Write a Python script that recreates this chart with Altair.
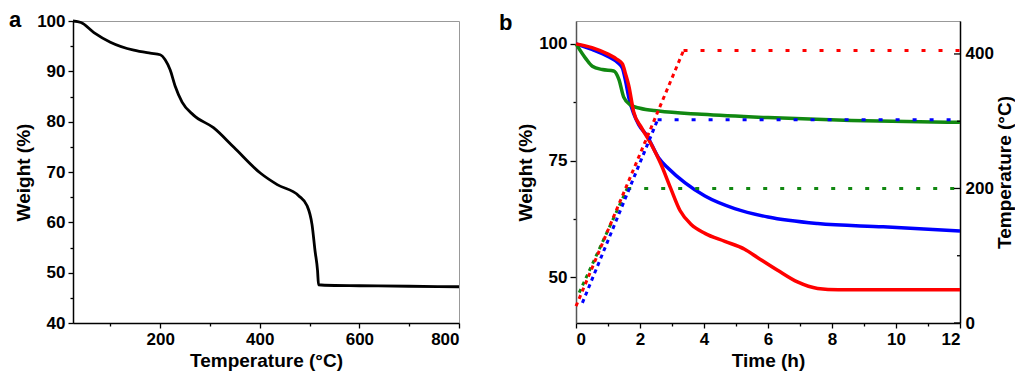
import altair as alt
import pandas as pd

FONT = "Liberation Sans"

# ---------------- Panel a data ----------------
a_temp = [25, 41, 67, 100, 147, 180, 200, 210, 220, 230, 244, 267, 307, 348,
          401, 435, 478, 495, 505, 511, 516, 518, 530, 600, 700, 800]
a_weight = [100, 99.7, 97.7, 95.8, 94.2, 93.6, 93.3, 92.3, 90.3, 87.1, 83.9, 81.3,
            78.8, 74.9, 69.8, 67.5, 65.3, 63.3, 59.5, 54.3, 50.4, 47.6, 47.5, 47.4,
            47.3, 47.2]

# ---------------- Panel b data ----------------
red_t = [0, 0.5, 1.0, 1.28, 1.45, 1.55, 1.65, 1.8, 2.05, 2.35, 2.65, 2.95, 3.25,
         3.6, 4.03, 4.65, 5.27, 5.68, 6.3, 6.92, 7.55, 8.2, 12]
red_w = [100, 99.2, 97.8, 96.7, 95.7, 93.5, 91.0, 85.5, 82.0, 78.5, 74.3, 69.2,
         64.3, 61.3, 59.4, 57.7, 56.0, 54.2, 51.5, 49.0, 47.6, 47.3, 47.3]
blue_t = [0, 0.5, 1.0, 1.3, 1.45, 1.55, 1.65, 1.8, 1.96, 2.22, 2.58, 2.89, 3.41,
          4.03, 4.96, 6.0, 7.55, 9.6, 12]
blue_w = [100, 98.8, 97.3, 96.0, 94.8, 92.0, 88.5, 85.1, 82.7, 80.3, 75.6, 73.3,
          70.2, 67.4, 64.7, 62.9, 61.5, 60.8, 59.9]
green_t = [0, 0.3, 0.51, 0.82, 1.18, 1.34, 1.49, 1.7, 2.0, 2.58, 3.93, 6.0, 8.6, 12]
green_w = [100, 96.9, 95.2, 94.5, 94.2, 92.4, 88.6, 86.9, 86.2, 85.6, 84.9, 84.2,
           83.6, 83.2]

# temperature programmes (ramp then plateau)
red_temp_t = [0, 3.36, 12]
red_temp_T = [25, 405, 405]
blue_temp_t = [0.2, 2.55, 12]
blue_temp_T = [30, 302, 302]
green_temp_t = [0.1, 1.6, 12]
green_temp_T = [45, 200, 200]

right_major = [0, 200, 400]
right_minor = [100, 300]
panel_labels = ["a", "b"]

RED, BLUE, GREEN = "#ff0000", "#0000ff", "#118811"

axis_style = dict(
    labelFont=FONT, labelFontSize=17, labelFontWeight="bold", labelColor="black",
    titleFont=FONT, titleFontSize=19, titleFontWeight="bold", titleColor="black",
    grid=False, domainColor="black", domainWidth=1.5, tickColor="black",
    tickWidth=1.3, labelPadding=3,
)

WA, WB, H = 386, 384, 302

# ---------------- Panel a ----------------
df_a = pd.DataFrame({"T": a_temp, "W": a_weight})
xa = alt.X("T:Q", scale=alt.Scale(domain=[25, 800], nice=False, zero=False),
           axis=alt.Axis(title="Temperature (°C)", values=list(range(100, 801, 100)),
                         labelExpr="datum.value % 200 === 0 ? datum.label : ''",
                         tickSize={"condition": {"test": "datum.value % 200 === 0", "value": 5}, "value": 3},
                         titlePadding=4, **axis_style))
ya = alt.Y("W:Q", scale=alt.Scale(domain=[40, 100], nice=False, zero=False),
           axis=alt.Axis(title="Weight (%)", values=list(range(40, 101, 5)),
                         labelExpr="datum.value % 10 === 0 ? datum.label : ''",
                         tickSize={"condition": {"test": "datum.value % 10 === 0", "value": 5}, "value": 3},
                         titlePadding=3, **axis_style))
line_a = alt.Chart(df_a).mark_line(color="black", strokeWidth=2.8, interpolate="monotone").encode(x=xa, y=ya)
lab_a = alt.Chart(pd.DataFrame({"t": [panel_labels[0]]})).mark_text(
    font=FONT, fontSize=22, fontWeight="bold", align="left", baseline="top", color="black"
).encode(x=alt.value(-64), y=alt.value(-11), text="t:N")
panel_a = alt.layer(line_a, lab_a).properties(width=WA, height=H)

# ---------------- Panel b ----------------
xb_axis = alt.Axis(title="Time (h)", values=list(range(0, 13)),
                   labelExpr="datum.value % 2 === 0 ? datum.label : ''",
                   tickSize={"condition": {"test": "datum.value % 2 === 0", "value": 5}, "value": 3},
                   titlePadding=4, **axis_style)
xb_scale = alt.Scale(domain=[0, 12], nice=False, zero=False)

left_style = dict(axis_style)
left_style["domainColor"] = "#555"
yb_left = alt.Y("W:Q", scale=alt.Scale(domain=[40.2, 104.9], nice=False, zero=False),
                axis=alt.Axis(title="Weight (%)", values=[50, 62.5, 75, 87.5, 100],
                              labelExpr="datum.value % 25 === 0 ? datum.label : ''",
                              tickSize={"condition": {"test": "datum.value % 25 === 0", "value": 6}, "value": 3},
                              titlePadding=3, **left_style))

def wdf(t, w):
    return pd.DataFrame({"t": t, "W": w})

weight_layers = []
for t, w, c in [(blue_t, blue_w, BLUE), (green_t, green_w, GREEN), (red_t, red_w, RED)]:
    weight_layers.append(
        alt.Chart(wdf(t, w)).mark_line(color=c, strokeWidth=3.5, interpolate="monotone")
        .encode(x=alt.X("t:Q", scale=xb_scale, axis=xb_axis), y=yb_left)
    )
weights = alt.layer(*weight_layers)

right_style = dict(axis_style)
right_style["labelPadding"] = 5
right_axis = alt.Axis(title="Temperature (°C)", orient="right", values=[0, 200, 400],
                      ticks=False, titlePadding=2, titleAngle=270, titleBaseline="top",
                      **right_style)
yr_scale = alt.Scale(domain=[0, 449], nice=False, zero=False)

temp_layers = []
for t, T, c in [(green_temp_t, green_temp_T, GREEN), (blue_temp_t, blue_temp_T, BLUE),
                (red_temp_t, red_temp_T, RED)]:
    ramp = pd.DataFrame({"t": t[:2], "T": T[:2]})
    plat = pd.DataFrame({"t": t[1:], "T": T[1:]})
    temp_layers.append(
        alt.Chart(ramp).mark_line(color=c, strokeWidth=3, strokeDash=[4, 4])
        .encode(x=alt.X("t:Q", scale=xb_scale, axis=xb_axis),
                y=alt.Y("T:Q", scale=yr_scale, axis=right_axis))
    )
    temp_layers.append(
        alt.Chart(plat).mark_line(color=c, strokeWidth=3, strokeDash=[4, 13])
        .encode(x=alt.X("t:Q", scale=xb_scale, axis=xb_axis),
                y=alt.Y("T:Q", scale=yr_scale, axis=right_axis))
    )

tick_major = alt.Chart(pd.DataFrame({"T": right_major})).mark_rule(color="black", strokeWidth=1.3).encode(
    y=alt.Y("T:Q", scale=yr_scale, axis=right_axis), x=alt.value(WB - 6), x2=alt.value(WB))
tick_minor = alt.Chart(pd.DataFrame({"T": right_minor})).mark_rule(color="black", strokeWidth=1.3).encode(
    y=alt.Y("T:Q", scale=yr_scale, axis=right_axis), x=alt.value(WB - 3), x2=alt.value(WB))
temps = alt.layer(*temp_layers, tick_major, tick_minor)

lab_b = alt.Chart(pd.DataFrame({"t": [panel_labels[1]]})).mark_text(
    font=FONT, fontSize=22, fontWeight="bold", align="left", baseline="top", color="black"
).encode(x=alt.value(-77), y=alt.value(-8), text="t:N")

panel_b = alt.layer(weights, temps, lab_b).resolve_scale(y="independent").properties(width=WB, height=H)

chart = alt.hconcat(panel_a, panel_b, spacing=32).properties(padding=0).configure_view(
    stroke="#999999", strokeWidth=1
)

chart.save("out.html", embed_options={"renderer": "svg", "actions": False})
